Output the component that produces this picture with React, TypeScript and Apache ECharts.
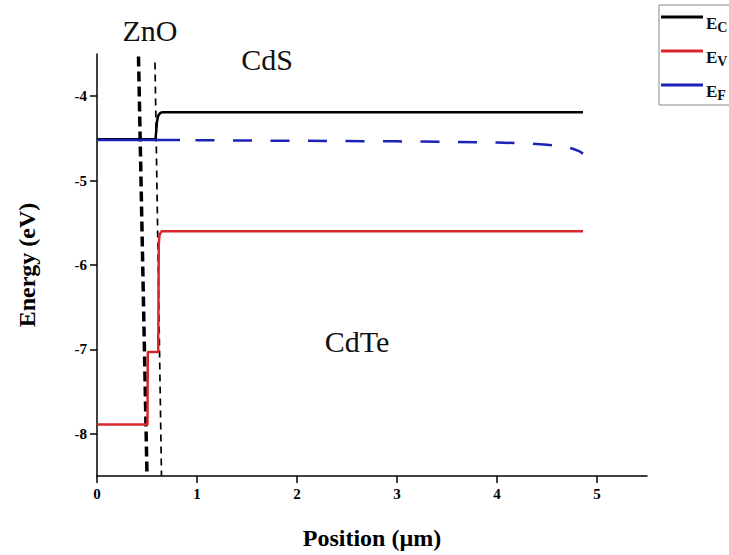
import React, { useEffect, useRef } from "react";
import * as echarts from "echarts";

// ---- data ----
const xTicks = [0, 1, 2, 3, 4, 5];
const yTicks = [-8, -7, -6, -5, -4];

// Conduction band E_C  [position (µm), energy (eV)]
const ecData: [number, number][] = [
  [0, -4.51], [0.585, -4.51], [0.592, -4.42], [0.6, -4.3], [0.612, -4.23], [0.635, -4.195], [0.66, -4.19], [4.86, -4.19],
];
// Valence band E_V
const evData: [number, number][] = [
  [0, -7.89], [0.505, -7.89], [0.508, -7.03], [0.612, -7.03], [0.618, -5.75], [0.626, -5.64], [0.645, -5.6], [4.86, -5.6],
];
// Fermi level E_F (solid in ZnO part, dashed afterwards)
const efSolid: [number, number][] = [[0, -4.52], [0.83, -4.52]];
const efDashed: [number, number][] = [
  [0.83, -4.52], [1, -4.522], [2, -4.528], [3, -4.535], [3.5, -4.54], [4, -4.548], [4.3, -4.56], [4.5, -4.575],
  [4.65, -4.595], [4.75, -4.62], [4.82, -4.65], [4.86, -4.68],
];
// Interface marker lines (slightly slanted dashed lines)
const interface1: [number, number][] = [[0.415, -3.53], [0.5, -8.5]];
const interface2: [number, number][] = [[0.58, -3.6], [0.645, -8.5]];

const layerLabels = ["ZnO", "CdS", "CdTe"];
const legendNames = ["EC", "EV", "EF"];
const legendSubs: Record<string, string> = { EC: "C", EV: "V", EF: "F" };

const SERIF = "'Liberation Serif', 'DejaVu Serif', serif";

export default function App() {
  const ref = useRef<HTMLDivElement>(null);
  useEffect(() => {
    document.body.style.margin = "0";
    if (!ref.current) return;
    const chart = echarts.init(ref.current, undefined, { renderer: "svg" });
    chart.setOption({
      animation: false,
      backgroundColor: "#fff",
      textStyle: { fontFamily: SERIF },
      grid: { left: 97, top: 54, width: 550, height: 424 },
      legend: {
        data: legendNames,
        orient: "vertical",
        left: 659,
        top: 5,
        padding: [5, 4, 0, 2],
        icon: "rect",
        itemWidth: 42,
        itemHeight: 3,
        itemGap: 7,
        borderColor: "#888",
        borderWidth: 1,
        selectedMode: false,
        formatter: (n: string) => `{e|E}{s|${legendSubs[n]}}`,
        textStyle: {
          padding: [0, 0, 0, -2],
          rich: {
            e: { fontFamily: SERIF, fontSize: 17, fontWeight: "bold", color: "#111", lineHeight: 14, padding: [5, 0, 5, 0], verticalAlign: "top" },
            s: { fontFamily: SERIF, fontSize: 14, fontWeight: "bold", color: "#111", lineHeight: 14, padding: [10, 0, 0, 0], verticalAlign: "top" },
          },
        },
      },
      xAxis: {
        type: "value",
        min: 0,
        max: 5.5,
        name: "Position (µm)",
        nameLocation: "middle",
        nameGap: 50,
        nameTextStyle: { fontFamily: SERIF, fontSize: 24, fontWeight: "bold", color: "#000" },
        axisLine: { lineStyle: { color: "#000", width: 1.5 } },
        axisTick: { show: true, length: 7, customValues: xTicks, lineStyle: { color: "#000", width: 1.5 } },
        axisLabel: { customValues: xTicks, fontFamily: SERIF, fontSize: 15, fontWeight: "bold", color: "#000", margin: 10 },
        splitLine: { show: false },
      },
      yAxis: {
        type: "value",
        min: -8.5,
        max: -3.5,
        name: "Energy (eV)",
        nameLocation: "middle",
        nameGap: 58,
        nameTextStyle: { fontFamily: SERIF, fontSize: 24, fontWeight: "bold", color: "#000" },
        axisLine: { show: true, lineStyle: { color: "#000", width: 1.5 } },
        axisTick: { show: true, length: 7, customValues: yTicks, lineStyle: { color: "#000", width: 1.5 } },
        axisLabel: { customValues: yTicks, fontFamily: SERIF, fontSize: 15, fontWeight: "bold", color: "#000", margin: 10 },
        splitLine: { show: false },
      },
      series: [
        {
          name: "EC", type: "line", data: ecData, symbol: "none", z: 3,
          lineStyle: { color: "#000", width: 2.5 }, itemStyle: { color: "#000" },
        },
        {
          name: "EV", type: "line", data: evData, symbol: "none", z: 3,
          lineStyle: { color: "#d9262a", width: 2.5 }, itemStyle: { color: "#d9262a" },
        },
        {
          name: "EF", type: "line", data: efDashed, symbol: "none", z: 3,
          lineStyle: { color: "#1c22b5", width: 2.5, type: [19, 18.5], dashOffset: 22 }, itemStyle: { color: "#1c22b5" },
        },
        {
          name: "EF-solid", type: "line", data: efSolid, symbol: "none", z: 4,
          lineStyle: { color: "#1c22b5", width: 2.5 }, itemStyle: { color: "#1c22b5" },
        },
        {
          name: "interface1", type: "line", data: interface1, symbol: "none", z: 2,
          lineStyle: { color: "#000", width: 3.5, type: [10, 5] },
        },
        {
          name: "interface2", type: "line", data: interface2, symbol: "none", z: 2,
          lineStyle: { color: "#000", width: 1.7, type: [7, 5] },
        },
      ],
      graphic: [
        { type: "text", x: 150, y: 30, style: { text: layerLabels[0], fontFamily: SERIF, fontSize: 30, fill: "#111", align: "center", verticalAlign: "middle" } },
        { type: "text", x: 267, y: 59, style: { text: layerLabels[1], fontFamily: SERIF, fontSize: 30, fill: "#111", align: "center", verticalAlign: "middle" } },
        { type: "text", x: 357, y: 341, style: { text: layerLabels[2], fontFamily: SERIF, fontSize: 30, fill: "#111", align: "center", verticalAlign: "middle" } },
      ],
    });
    return () => chart.dispose();
  }, []);
  return <div ref={ref} style={{ width: 729, height: 555 }} />;
}
